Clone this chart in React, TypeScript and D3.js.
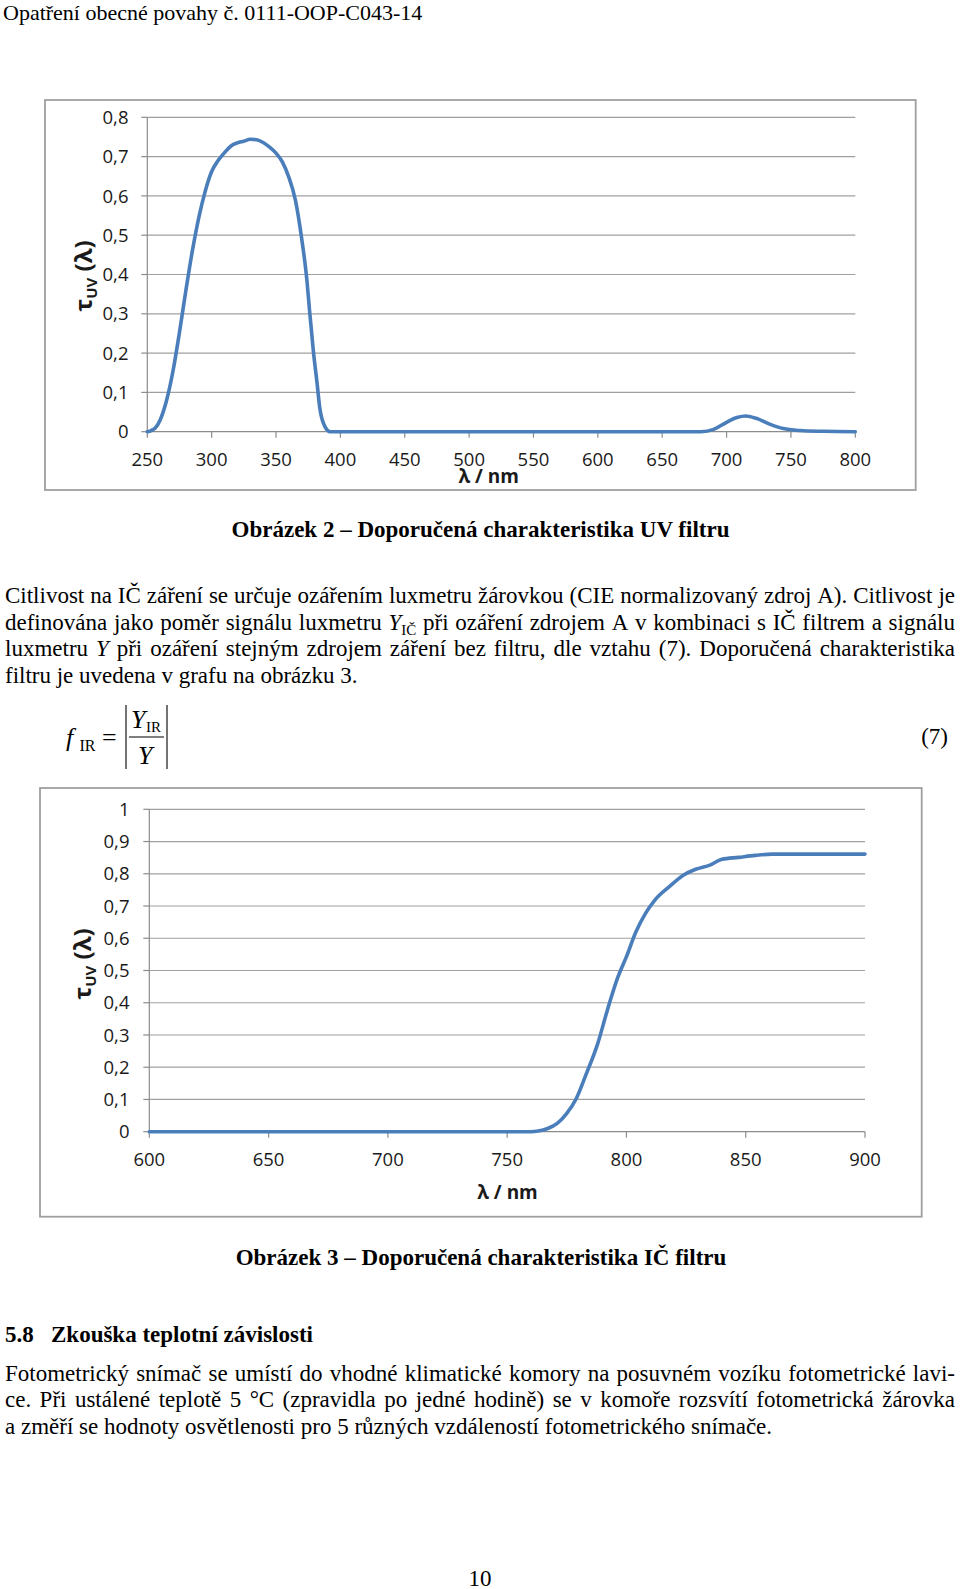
import React from 'react';
import * as d3 from 'd3';

// ---------- Chart data ----------
const uvWavelength = [250, 253, 256, 260, 265, 270, 275, 280, 285, 290, 295, 300, 305, 310, 315, 320, 325, 330, 335, 340, 345, 350, 355, 360, 365, 370, 374, 376, 379, 382, 384, 388, 392, 400, 450, 500, 550, 600, 650, 680, 690, 700, 708, 715, 723, 733, 744, 757, 775, 800];
const uvTransmission = [0, 0.003, 0.009, 0.03, 0.08, 0.155, 0.253, 0.36, 0.46, 0.545, 0.612, 0.662, 0.69, 0.71, 0.727, 0.735, 0.739, 0.744, 0.743, 0.736, 0.724, 0.709, 0.686, 0.647, 0.59, 0.49, 0.385, 0.31, 0.205, 0.12, 0.06, 0.013, 0, 0, 0, 0, 0, 0, 0, 0, 0.006, 0.024, 0.036, 0.04, 0.034, 0.02, 0.008, 0.003, 0.001, 0];
const uvXTicks = [250, 300, 350, 400, 450, 500, 550, 600, 650, 700, 750, 800];
const uvYTicks = [0, 0.1, 0.2, 0.3, 0.4, 0.5, 0.6, 0.7, 0.8];

const irWavelength = [600, 650, 700, 750, 760, 763, 767, 771, 775, 779, 783, 788, 792, 796, 800, 804, 808, 812, 818, 824, 829, 835, 840, 847, 854, 861, 880, 900];
const irTransmission = [0, 0, 0, 0, 0, 0.002, 0.01, 0.026, 0.057, 0.103, 0.176, 0.274, 0.377, 0.471, 0.543, 0.62, 0.677, 0.719, 0.76, 0.796, 0.814, 0.827, 0.845, 0.851, 0.857, 0.861, 0.861, 0.861];
const irXTicks = [600, 650, 700, 750, 800, 850, 900];
const irYTicks = [0, 0.1, 0.2, 0.3, 0.4, 0.5, 0.6, 0.7, 0.8, 0.9, 1];

// ---------- Page text ----------
const headerText = 'Opatření obecné povahy č. 0111-OOP-C043-14';
const caption2 = 'Obrázek 2 – Doporučená charakteristika UV filtru';
const caption3 = 'Obrázek 3 – Doporučená charakteristika IČ filtru';
const para1Lines = [
  'Citlivost na IČ záření se určuje ozářením luxmetru žárovkou (CIE normalizovaný zdroj A). Citlivost je',
  'definována jako poměr signálu luxmetru {i:Y}{s:IČ} při ozáření zdrojem A v kombinaci s IČ filtrem a signálu',
  'luxmetru {i:Y} při ozáření stejným zdrojem záření bez filtru, dle vztahu (7). Doporučená charakteristika',
  'filtru je uvedena v grafu na obrázku 3.',
];
const para2Lines = [
  'Fotometrický snímač se umístí do vhodné klimatické komory na posuvném vozíku fotometrické lavi-',
  'ce. Při ustálené teplotě 5 °C (zpravidla po jedné hodině) se v komoře rozsvítí fotometrická žárovka',
  'a změří se hodnoty osvětlenosti pro 5 různých vzdáleností fotometrického snímače.',
];
const headingNumber = '5.8';
const headingText = 'Zkouška teplotní závislosti';
const pageNumber = '10';

const SERIF = "'Liberation Serif', 'Times New Roman', serif";
const SANS = "'Open Sans', 'Liberation Sans', sans-serif";
const BLUE = '#4a7ebb';

const fmt = d3.formatLocale({ decimal: ',', thousands: ' ', grouping: [3], currency: ['', ''] }).format('~g');

// ---------- text measuring ----------
let ctx: CanvasRenderingContext2D | null = null;
function measure(text: string, size: number, italic = false, bold = false) {
  if (!ctx) ctx = document.createElement('canvas').getContext('2d');
  ctx!.font = `${italic ? 'italic ' : ''}${bold ? 'bold ' : ''}${size}px 'Liberation Serif'`;
  return ctx!.measureText(text).width;
}

type Seg = { t: string; i?: boolean; s?: boolean };
function parseWord(w: string): Seg[] {
  const out: Seg[] = [];
  const re = /\{([is]):([^}]*)\}|[^{]+/g;
  let m;
  while ((m = re.exec(w))) {
    if (m[1] === 'i') out.push({ t: m[2], i: true });
    else if (m[1] === 's') out.push({ t: m[2], s: true });
    else out.push({ t: m[0] });
  }
  return out;
}

const BODY = 23;
const SUB = 15;
function segWidth(s: Seg) {
  return measure(s.t, s.s ? SUB : BODY, !!s.i);
}

function TextLine({ line, y, justify, x0 = 5, x1 = 955 }: { line: string; y: number; justify: boolean; x0?: number; x1?: number }) {
  const words = line.split(' ').map(parseWord);
  const widths = words.map((w) => w.reduce((a, s) => a + segWidth(s), 0));
  const total = widths.reduce((a, b) => a + b, 0);
  const gap = justify && words.length > 1 ? (x1 - x0 - total) / (words.length - 1) : measure(' ', BODY);
  let x = x0;
  return (
    <g>
      {words.map((w, wi) => {
        const px = x;
        x += widths[wi] + gap;
        let shift = 0;
        return (
          <text key={wi} x={px} y={y} fontFamily={SERIF} fontSize={BODY} fill="#000">
            {w.map((s, si) => {
              const dy = (s.s ? 5 : 0) - shift;
              shift = s.s ? 5 : 0;
              return (
                <tspan key={si} dy={dy} fontSize={s.s ? SUB : BODY} fontStyle={s.i ? 'italic' : 'normal'}>
                  {s.t}
                </tspan>
              );
            })}
          </text>
        );
      })}
    </g>
  );
}

// ---------- Chart ----------
type ChartProps = {
  frame: { x: number; y: number; w: number; h: number };
  plot: { left: number; right: number; top: number; bottom: number };
  xs: number[];
  ys: number[];
  xTicks: number[];
  yTicks: number[];
  yLabelX: number;
  xLabelY: number;
  xTitle: { x: number; y: number };
  yTitle: { x: number; y: number };
};

function SpectrumChart({ frame, plot, xs, ys, xTicks, yTicks, yLabelX, xLabelY, xTitle, yTitle }: ChartProps) {
  const x = d3.scaleLinear().domain([xTicks[0], xTicks[xTicks.length - 1]]).range([plot.left, plot.right]);
  const y = d3.scaleLinear().domain([yTicks[0], yTicks[yTicks.length - 1]]).range([plot.bottom, plot.top]);
  const line = d3
    .line<number>()
    .x((_, i) => x(xs[i]))
    .y((d) => y(d))
    .curve(d3.curveMonotoneX);
  return (
    <g>
      <rect x={frame.x} y={frame.y} width={frame.w} height={frame.h} fill="#fff" stroke="#9f9f9f" strokeWidth={1.8} />
      {yTicks.map((t) => (
        <g key={'y' + t}>
          {t !== 0 && <line x1={plot.left} x2={plot.right} y1={y(t)} y2={y(t)} stroke="#a0a0a0" strokeWidth={1.2} />}
          <line x1={plot.left - 6} x2={plot.left} y1={y(t)} y2={y(t)} stroke="#8c8c8c" strokeWidth={1.2} />
          <text x={yLabelX} y={y(t)} dy="0.36em" textAnchor="end" fontFamily={SANS} fontSize={18.5} fill="#1a1a1a">
            {fmt(t)}
          </text>
        </g>
      ))}
      <line x1={plot.left} x2={plot.left} y1={plot.top} y2={plot.bottom} stroke="#8c8c8c" strokeWidth={1.2} />
      <line x1={plot.left} x2={plot.right} y1={plot.bottom} y2={plot.bottom} stroke="#8c8c8c" strokeWidth={1.2} />
      {xTicks.map((t) => (
        <g key={'x' + t}>
          <line x1={x(t)} x2={x(t)} y1={plot.bottom} y2={plot.bottom + 6} stroke="#8c8c8c" strokeWidth={1.2} />
          <text x={x(t)} y={xLabelY} textAnchor="middle" fontFamily={SANS} fontSize={18.5} fill="#1a1a1a">
            {t}
          </text>
        </g>
      ))}
      <path d={line(ys) || ''} fill="none" stroke={BLUE} strokeWidth={3.6} strokeLinejoin="round" strokeLinecap="round" />
      <text x={xTitle.x} y={xTitle.y} textAnchor="middle" fontFamily={SANS} fontWeight="bold" fontSize={19} fill="#1a1a1a">
        λ / nm
      </text>
      <text
        transform={`translate(${yTitle.x},${yTitle.y}) rotate(-90)`}
        textAnchor="middle"
        dy="0.35em"
        fontFamily={SANS}
        fontWeight="bold"
        fontSize={24}
        fill="#1a1a1a"
      >
        τ<tspan fontSize={15} dy={5}>UV</tspan>
        <tspan dy={-5}> (λ)</tspan>
      </text>
    </g>
  );
}

export default function App() {
  return (
    <svg width={960} height={1589} style={{ position: 'absolute', left: 0, top: 0, background: '#fff' }}>
      <rect x={0} y={0} width={960} height={1589} fill="#fff" />
      <text x={3} y={19.5} fontFamily={SERIF} fontSize={22} fill="#000">
        {headerText}
      </text>

      <SpectrumChart
        frame={{ x: 45, y: 100, w: 870.7, h: 390 }}
        plot={{ left: 147.3, right: 855.3, top: 117.3, bottom: 431.7 }}
        xs={uvWavelength}
        ys={uvTransmission}
        xTicks={uvXTicks}
        yTicks={uvYTicks}
        yLabelX={128.5}
        xLabelY={465.5}
        xTitle={{ x: 488.7, y: 483 }}
        yTitle={{ x: 84, y: 276 }}
      />

      <text x={480.5} y={537} textAnchor="middle" fontFamily={SERIF} fontWeight="bold" fontSize={23} fill="#000">
        {caption2}
      </text>

      {para1Lines.map((l, i) => (
        <TextLine key={i} line={l} y={603 + i * 26.6} justify={i < para1Lines.length - 1} />
      ))}

      {/* formula (7) */}
      <g fontFamily={SERIF} fill="#000">
        <text x={66} y={746} fontSize={26} fontStyle="italic">f</text>
        <text x={79.5} y={751} fontSize={16}>IR</text>
        <text x={102} y={746} fontSize={26}>=</text>
        <line x1={126} x2={126} y1={705} y2={769} stroke="#000" strokeWidth={1.1} />
        <line x1={167} x2={167} y1={705} y2={769} stroke="#000" strokeWidth={1.1} />
        <text x={131} y={728} fontSize={26} fontStyle="italic">Y</text>
        <text x={146} y={732} fontSize={15}>IR</text>
        <line x1={129} x2={164} y1={737} y2={737} stroke="#000" strokeWidth={1.1} />
        <text x={138} y={764} fontSize={26} fontStyle="italic">Y</text>
        <text x={948} y={744} fontSize={23} textAnchor="end">(7)</text>
      </g>

      <SpectrumChart
        frame={{ x: 40, y: 788, w: 881.7, h: 428.7 }}
        plot={{ left: 149.3, right: 865, top: 809.3, bottom: 1131.7 }}
        xs={irWavelength}
        ys={irTransmission}
        xTicks={irXTicks}
        yTicks={irYTicks}
        yLabelX={129.5}
        xLabelY={1165.5}
        xTitle={{ x: 507.5, y: 1198.5 }}
        yTitle={{ x: 83, y: 964 }}
      />

      <text x={481} y={1264.5} textAnchor="middle" fontFamily={SERIF} fontWeight="bold" fontSize={23} fill="#000">
        {caption3}
      </text>

      <text x={5} y={1342} fontFamily={SERIF} fontWeight="bold" fontSize={23} fill="#000">
        {headingNumber}
      </text>
      <text x={51} y={1342} fontFamily={SERIF} fontWeight="bold" fontSize={23} fill="#000">
        {headingText}
      </text>

      {para2Lines.map((l, i) => (
        <TextLine key={i} line={l} y={1380.5 + i * 26.6} justify={i < para2Lines.length - 1} />
      ))}

      <text x={480} y={1585.5} textAnchor="middle" fontFamily={SERIF} fontSize={23} fill="#000">
        {pageNumber}
      </text>
    </svg>
  );
}
